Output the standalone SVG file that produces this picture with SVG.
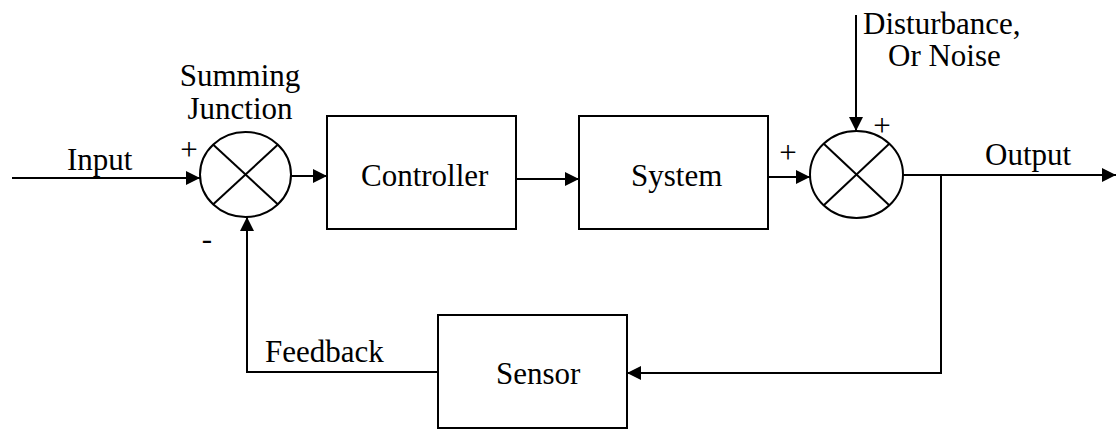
<svg xmlns="http://www.w3.org/2000/svg" width="1116" height="433" viewBox="0 0 1116 433">
  <style>
    .box { fill: #ffffff; stroke: #000000; stroke-width: 2; }
    .sum { fill: #ffffff; stroke: #000000; stroke-width: 2; }
    .xline { stroke: #000000; stroke-width: 2; fill: none; }
    .wire { stroke: #000000; stroke-width: 2; fill: none; }
    .arrow { marker-end: url(#ah); }
    text { font-family: 'Liberation Serif', 'DejaVu Serif', serif; font-size: 31px; fill: #000000; }
  </style>
  <defs>
    <marker id="ah" markerUnits="userSpaceOnUse" markerWidth="15" markerHeight="15" refX="14" refY="7" orient="auto">
      <path d="M0,0 L14,7 L0,14 z" fill="#000000"/>
    </marker>
  </defs>
  <rect width="1116" height="433" fill="#ffffff"/>

  <g id="connectors">
    <line class="wire arrow" x1="12" y1="178" x2="200" y2="178"/>
    <line class="wire arrow" x1="291" y1="176" x2="327" y2="176"/>
    <line class="wire arrow" x1="516" y1="179" x2="579" y2="179"/>
    <line class="wire arrow" x1="768" y1="177" x2="810" y2="177"/>
    <line class="wire arrow" x1="856" y1="15" x2="856" y2="131"/>
    <line class="wire arrow" x1="902" y1="175" x2="1116" y2="175"/>
    <polyline class="wire arrow" points="941,175 941,373 627,373"/>
    <polyline class="wire arrow" points="438,372 247,372 247,217"/>
  </g>

  <g id="summing-junction">
    <ellipse class="sum" cx="245.5" cy="174.5" rx="45.5" ry="42.5"/>
    <line class="xline" x1="213" y1="144.5" x2="278" y2="204.5"/>
    <line class="xline" x1="278" y1="144.5" x2="213" y2="204.5"/>
    <text x="240" y="86" text-anchor="middle">Summing</text>
    <text x="240" y="119" text-anchor="middle">Junction</text>
    <text x="189" y="160" text-anchor="middle">+</text>
    <text x="207" y="249" text-anchor="middle">-</text>
  </g>

  <g id="input-label">
    <text x="67" y="170">Input</text>
  </g>

  <g id="controller">
    <rect class="box" x="327" y="116" width="189" height="113"/>
    <text x="361" y="186">Controller</text>
  </g>

  <g id="system">
    <rect class="box" x="579" y="116" width="189" height="113"/>
    <text x="631" y="186">System</text>
  </g>

  <g id="disturbance-junction">
    <ellipse class="sum" cx="856.5" cy="174.5" rx="46.5" ry="43.5"/>
    <line class="xline" x1="823.5" y1="143.5" x2="889.5" y2="205.5"/>
    <line class="xline" x1="889.5" y1="143.5" x2="823.5" y2="205.5"/>
    <text x="788" y="163" text-anchor="middle">+</text>
    <text x="882" y="136" text-anchor="middle">+</text>
  </g>

  <g id="disturbance-label">
    <text x="863" y="34">Disturbance,</text>
    <text x="888" y="66">Or Noise</text>
  </g>

  <g id="output-label">
    <text x="985" y="165">Output</text>
  </g>

  <g id="sensor">
    <rect class="box" x="438" y="315" width="189" height="113"/>
    <text x="496" y="384">Sensor</text>
  </g>

  <g id="feedback-label">
    <text x="265" y="362">Feedback</text>
  </g>
</svg>
